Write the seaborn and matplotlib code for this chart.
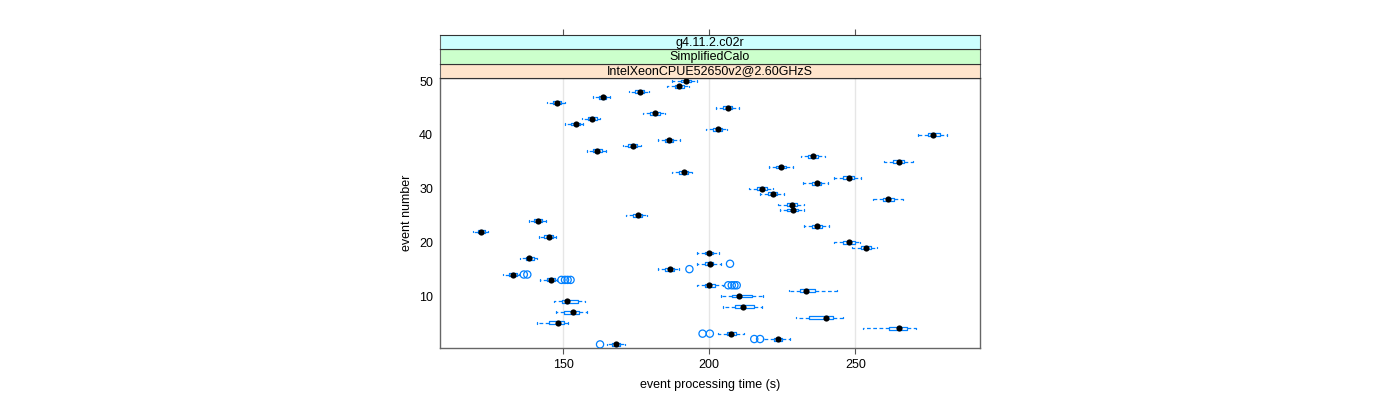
import numpy as np
import pandas as pd
import matplotlib
matplotlib.use("Agg")
import matplotlib.pyplot as plt
import seaborn as sns

# ---------------- data ----------------
events = list(range(1, 51))
whisker_lo = [164.9, 218.5, 203.1, 252.8, 141.1, 229.6, 147.6, 204.8, 146.9, 204.0,
              227.4, 195.7, 142.1, 129.5, 182.5, 195.7, 135.3, 195.7, 248.9, 242.7,
              141.8, 119.2, 232.6, 138.4, 171.5, 224.3, 223.7, 256.2, 217.5, 213.6,
              232.2, 242.7, 187.2, 220.5, 259.8, 231.4, 158.3, 170.3, 182.4, 271.3,
              198.9, 150.7, 156.5, 177.4, 202.2, 144.5, 160.3, 172.5, 185.5, 187.4]
box_q1 = [166.6, 222.2, 206.0, 261.5, 145.0, 234.3, 150.2, 208.8, 149.7, 207.9,
          231.1, 198.5, 144.3, 131.4, 184.8, 198.5, 137.1, 198.5, 251.8, 245.7,
          143.5, 120.7, 235.1, 140.0, 173.8, 226.7, 226.5, 259.4, 220.0, 216.2,
          235.1, 245.9, 189.6, 222.9, 263.0, 233.9, 160.3, 172.3, 184.8, 274.8,
          201.2, 152.6, 158.6, 179.7, 204.6, 146.6, 162.3, 174.6, 188.3, 190.2]
median = [167.9, 223.5, 207.4, 265.1, 148.2, 240.0, 153.3, 211.4, 151.4, 210.1,
          233.2, 200.0, 145.8, 132.9, 186.6, 200.1, 138.4, 200.0, 253.7, 247.7,
          145.0, 122.0, 237.0, 141.5, 175.5, 228.8, 228.2, 261.2, 221.8, 217.9,
          236.8, 247.7, 191.2, 224.5, 265.0, 235.6, 161.7, 173.9, 186.2, 276.7,
          202.9, 154.4, 159.8, 181.3, 206.5, 148.0, 163.6, 176.3, 189.7, 191.9]
box_q3 = [169.4, 224.8, 209.1, 267.6, 150.1, 242.3, 155.5, 215.4, 155.1, 214.7,
          236.2, 202.0, 147.2, 134.0, 188.0, 201.4, 140.0, 201.4, 255.3, 249.9,
          146.4, 123.2, 238.5, 142.6, 176.8, 230.5, 229.9, 263.3, 223.1, 219.7,
          238.1, 249.6, 192.8, 226.3, 266.7, 237.4, 163.1, 175.4, 187.7, 279.0,
          204.2, 155.7, 161.4, 183.1, 207.7, 149.4, 164.8, 177.6, 191.2, 193.6]
whisker_hi = [171.1, 227.6, 212.0, 270.8, 151.5, 245.7, 158.1, 218.2, 157.4, 218.5,
              243.6, 204.8, 148.0, 134.9, 189.7, 204.0, 140.9, 203.4, 257.6, 251.6,
              147.4, 124.1, 241.0, 144.1, 178.6, 232.6, 232.3, 266.2, 225.6, 221.7,
              240.5, 252.1, 194.0, 228.8, 269.7, 239.5, 164.5, 176.5, 189.9, 281.5,
              206.2, 156.6, 162.6, 184.7, 210.2, 150.5, 166.1, 179.2, 192.9, 195.7]

outlier_event = [1, 2, 2, 3, 3, 12, 12, 12, 12, 13, 13, 13, 13, 14, 14, 15, 16]
outlier_time = [162.6, 215.4, 217.4, 197.7, 200.2, 206.5, 207.7, 208.6, 209.4,
                149.4, 150.6, 151.5, 152.5, 136.5, 137.7, 193.2, 207.1]

strip_labels = ["IntelXeonCPUE52650v2@2.60GHzS", "SimplifiedCalo", "g4.11.2.c02r"]
strip_colors = ["#ffe5cc", "#ccffcc", "#ccffff"]
x_ticks = [150, 200, 250]
y_ticks = [10, 20, 30, 40, 50]

# long table of five-number summaries per event
rows = []
for e, a, b, c, d, f in zip(events, whisker_lo, box_q1, median, box_q3, whisker_hi):
    for v in (a, b, c, d, f):
        rows.append({"event": e, "time": v})
df = pd.DataFrame(rows)
med_df = pd.DataFrame({"event": events, "time": median})
out_df = pd.DataFrame({"event": outlier_event, "time": outlier_time})

# ---------------- style ----------------
sns.set_style("white")
plt.rcParams["font.family"] = ["Liberation Sans", "DejaVu Sans"]
plt.rcParams["text.color"] = "black"
plt.rcParams["axes.labelcolor"] = "black"
plt.rcParams["xtick.labelcolor"] = "black"
plt.rcParams["ytick.labelcolor"] = "black"
FS = 9.0
BLUE = "#0080ff"

W, H = 1400, 400
fig = plt.figure(figsize=(W / 100, H / 100), dpi=100)

px_l, px_r, px_t, px_b = 440, 980, 78, 348
ax = fig.add_axes([px_l / W, (H - px_b) / H, (px_r - px_l) / W, (px_b - px_t) / H])

sns.boxplot(data=df, x="time", y="event", orient="h", native_scale=True,
            whis=(0, 100), width=0.55, fill=False, color=BLUE, linewidth=0.9,
            showfliers=False, medianprops={"visible": False},
            whiskerprops={"linestyle": (0, (3, 2)), "color": BLUE},
            capprops={"color": BLUE}, boxprops={"color": BLUE}, ax=ax)

sns.scatterplot(data=out_df, x="time", y="event", marker="o", s=27,
                facecolors="none", edgecolor=BLUE, linewidth=0.9, ax=ax, zorder=4)
sns.scatterplot(data=med_df, x="time", y="event", color="black", s=20,
                edgecolor="black", linewidth=0, ax=ax, zorder=5)

ax.set_xlim(107.8, 292.7)
ax.set_ylim(0.33, 50.56)
ax.set_xticks(x_ticks)
ax.set_yticks(y_ticks)
ax.set_xticklabels([str(t) for t in x_ticks], fontsize=FS, color="black")
ax.set_yticklabels([str(t) for t in y_ticks], fontsize=FS, color="black")
ax.grid(axis="x", color="#e6e6e6", linewidth=1)
ax.grid(axis="y", visible=False)
ax.set_axisbelow(True)
ax.tick_params(axis="x", direction="out", length=4, width=0.8, color="#555555",
               pad=4, bottom=True)
ax.tick_params(axis="y", length=0, pad=5, left=False)
ax.set_xlabel("event processing time (s)", fontsize=FS, labelpad=6, color="black")
ax.set_ylabel("event number", fontsize=FS, labelpad=4, color="black")
for s in ax.spines.values():
    s.set_color("#666666")
    s.set_linewidth(1.0)

# ---------------- strips ----------------
strip_h = (px_t - 34.7) / 3.0
for i, (lab, col) in enumerate(zip(strip_labels, strip_colors)):
    y0 = H - px_t + i * strip_h
    sax = fig.add_axes([px_l / W, y0 / H, (px_r - px_l) / W, strip_h / H], sharex=ax)
    sax.set_facecolor(col)
    sax.text(0.5, 0.45, lab, ha="center", va="center", fontsize=FS,
             color="black", transform=sax.transAxes)
    sax.set_yticks([])
    sax.tick_params(axis="x", bottom=False, labelbottom=False)
    if i == len(strip_labels) - 1:
        sax.tick_params(axis="x", top=True, labeltop=False, direction="out",
                        length=4, width=0.8, color="#555555")
    else:
        sax.tick_params(axis="x", top=False, labeltop=False)
    sax.grid(False)
    for s in sax.spines.values():
        s.set_color("#333333")
        s.set_linewidth(0.8)
    sax.spines["left"].set_color("#666666")
    sax.spines["right"].set_color("#666666")

fig.savefig("out.png", dpi=100)
